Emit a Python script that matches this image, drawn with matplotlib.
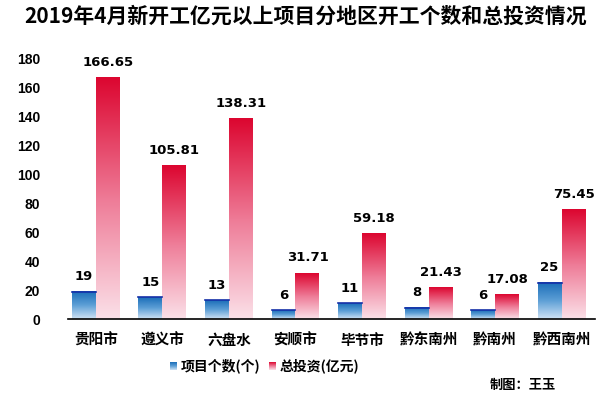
import numpy as np
import matplotlib.pyplot as plt
from matplotlib.colors import LinearSegmentedColormap

plt.rcParams['font.family'] = ['Noto Sans CJK SC', 'DejaVu Sans']

regions = ['贵阳市', '遵义市', '六盘水', '安顺市', '毕节市', '黔东南州', '黔南州', '黔西南州']
counts = [19, 15, 13, 6, 11, 8, 6, 25]
invest = [166.65, 105.81, 138.31, 31.71, 59.18, 21.43, 17.08, 75.45]
count_labels = ['19', '15', '13', '6', '11', '8', '6', '25']
invest_labels = ['166.65', '105.81', '138.31', '31.71', '59.18', '21.43', '17.08', '75.45']

blue_cm = LinearSegmentedColormap.from_list('b', ['#cfe2f4', '#5d9fd6', '#1a6db8'])
red_cm = LinearSegmentedColormap.from_list('r', ['#fbe0e8', '#ee7a96', '#dc0630'])
grad = np.linspace(0, 1, 128).reshape(-1, 1)

fig = plt.figure(figsize=(6.12, 4.04), dpi=100)
ax = fig.add_axes([0.111, 0.210, 0.861, 0.646])

w = 0.36
x = np.arange(len(regions))

def grad_bar(x0, h, cmap):
    ax.imshow(grad, extent=[x0, x0 + w, 0, h], origin='lower', cmap=cmap,
              aspect='auto', interpolation='bilinear', zorder=2)

for i in range(len(regions)):
    grad_bar(x[i] - w, counts[i], blue_cm)
    ax.plot([x[i] - w, x[i]], [counts[i], counts[i]], color='#1530a8', lw=1.2, zorder=3)
    grad_bar(x[i], invest[i], red_cm)
    ax.text(x[i] - w / 2, counts[i] + 6, count_labels[i], ha='center', va='bottom',
            fontsize=9.5, fontweight='bold', family='DejaVu Sans')
    ax.text(x[i] + w / 2, invest[i] + 6, invest_labels[i], ha='center', va='bottom',
            fontsize=9.5, fontweight='bold', family='DejaVu Sans', clip_on=False)

ax.set_xlim(-0.42, 7.5)
ax.set_ylim(0, 180)
ax.set_yticks(range(0, 181, 20))
ax.set_yticklabels([str(v) for v in range(0, 181, 20)], fontsize=10,
                   fontweight='bold', family='Liberation Sans')
ax.set_xticks(x)
ax.set_xticklabels(regions, fontsize=10.5, fontweight='bold')
ax.tick_params(axis='both', length=0)
ax.tick_params(axis='y', pad=20)
ax.tick_params(axis='x', pad=9)
for s in ['top', 'right', 'left']:
    ax.spines[s].set_visible(False)
ax.spines['bottom'].set_linewidth(1.2)

fig.suptitle('2019年4月新开工亿元以上项目分地区开工个数和总投资情况',
             x=0.5, y=0.985, fontsize=15, fontweight='heavy')

# legend
for lx, cmap, label in [(170, blue_cm, '项目个数(个)'), (269, red_cm, '总投资(亿元)')]:
    la = fig.add_axes([lx / 612, 1 - 370 / 404, 7 / 612, 8 / 404])
    la.imshow(grad, origin='lower', cmap=cmap, aspect='auto')
    la.axis('off')
    fig.text((lx + 11) / 612, 1 - 366 / 404, label, fontsize=10, fontweight='bold', va='center')

fig.text(556 / 612, 1 - 385 / 404, '制图：王玉', fontsize=9.5, fontweight='bold',
         ha='right', va='center')

fig.savefig('out.png', dpi=100)
